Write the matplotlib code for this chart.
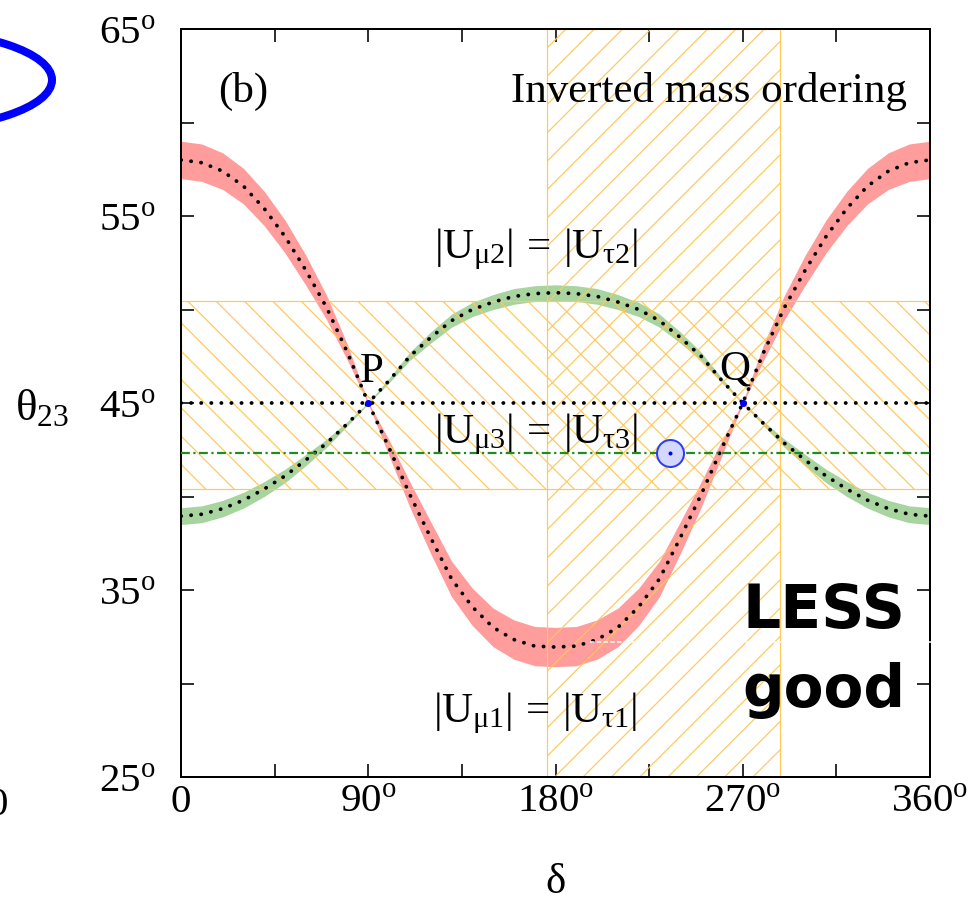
import matplotlib
matplotlib.use("Agg")
import matplotlib.pyplot as plt
from matplotlib.patches import Ellipse

DPI = 85
W, H = 971, 909


def pt(px):
    """Convert a length in pixels to points at the output resolution."""
    return px * 72.0 / DPI


plt.rcParams["font.family"] = ["Liberation Serif", "DejaVu Serif"]
plt.rcParams["mathtext.fontset"] = "custom"
plt.rcParams["mathtext.rm"] = "Liberation Serif"
plt.rcParams["mathtext.it"] = "Liberation Serif"
plt.rcParams["mathtext.bf"] = "Liberation Serif:bold"
plt.rcParams["hatch.linewidth"] = pt(1.2)

# ---- data -------------------------------------------------------------
delta = [0, 10, 20, 30, 40, 50, 60, 70, 80, 90, 100, 110, 120, 130, 140, 150,
         160, 170, 180, 190, 200, 210, 220, 230, 240, 250, 260, 270, 280, 290,
         300, 310, 320, 330, 340, 350, 360]

# |U_mu1| = |U_tau1|  (centre line and half width of the band)
theta_u1 = [58.0, 57.85, 57.4, 56.6, 55.4, 53.9, 52.1, 50.1, 47.7, 45.0,
            42.6, 40.1, 37.8, 35.6, 34.1, 33.0, 32.35, 32.0, 31.95,
            32.0, 32.35, 33.0, 34.1, 35.6, 37.8, 40.1, 42.6, 45.0,
            47.7, 50.1, 52.1, 53.9, 55.4, 56.6, 57.4, 57.85, 58.0]
width_u1 = [1.0, 1.0, 0.98, 0.95, 0.92, 0.88, 0.8, 0.65, 0.42, 0.05,
            0.42, 0.68, 0.85, 0.95, 1.0, 1.03, 1.05, 1.05, 1.05,
            1.05, 1.05, 1.03, 1.0, 0.95, 0.85, 0.68, 0.42, 0.05,
            0.42, 0.65, 0.8, 0.88, 0.92, 0.95, 0.98, 1.0, 1.0]

# |U_mu2| = |U_tau2|
theta_u2 = [38.95, 39.05, 39.35, 39.8, 40.4, 41.1, 41.95, 42.85, 43.9, 45.0,
            46.2, 47.5, 48.5, 49.4, 50.0, 50.4, 50.7, 50.85, 50.9,
            50.85, 50.7, 50.4, 50.0, 49.4, 48.5, 47.5, 46.2, 45.0,
            43.9, 42.85, 41.95, 41.1, 40.4, 39.8, 39.35, 39.05, 38.95]
width_u2 = [0.45, 0.45, 0.44, 0.42, 0.4, 0.36, 0.3, 0.22, 0.12, 0.03,
            0.12, 0.22, 0.3, 0.35, 0.38, 0.4, 0.42, 0.42, 0.42,
            0.42, 0.42, 0.4, 0.38, 0.35, 0.3, 0.22, 0.12, 0.03,
            0.12, 0.22, 0.3, 0.36, 0.4, 0.42, 0.44, 0.45, 0.45]

theta_u3 = 42.3            # |U_mu3| = |U_tau3|
theta_maximal = 45.0
crossing_delta = [90, 270]
crossing_theta = [45.0, 45.0]
crossing_names = ["P", "Q"]
best_delta = 235
best_theta = 42.3
delta_range = (176, 288)
theta_range = (40.4, 50.45)

x_ticks = [0, 90, 180, 270, 360]
x_tick_labels = ["0", r"$90^{\rm o}$", r"$180^{\rm o}$", r"$270^{\rm o}$", r"$360^{\rm o}$"]
y_ticks = [25, 35, 45, 55, 65]
y_tick_labels = [r"$25^{\rm o}$", r"$35^{\rm o}$", r"$45^{\rm o}$", r"$55^{\rm o}$", r"$65^{\rm o}$"]

# ---- colours -----------------------------------------------------------
RED_BAND = "#FF9C9C"
GREEN_BAND = "#A8D4A0"
HATCH = "#FFC85A"
DASHDOT_GREEN = "#1E8C1E"
BLUE = "#0000FF"

TICK_FS = pt(41)
TEXT_FS = pt(43)

fig = plt.figure(figsize=(W / DPI, H / DPI), dpi=DPI)
fig.patch.set_facecolor("white")
ax = fig.add_axes([181 / W, 1 - 778 / H, 749 / W, 748 / H])

# bands of the two mixing-matrix equalities
lo1 = [t - w for t, w in zip(theta_u1, width_u1)]
hi1 = [t + w for t, w in zip(theta_u1, width_u1)]
lo2 = [t - w for t, w in zip(theta_u2, width_u2)]
hi2 = [t + w for t, w in zip(theta_u2, width_u2)]
ax.fill_between(delta, lo1, hi1, color=RED_BAND, lw=0, zorder=1)
ax.fill_between(delta, lo2, hi2, color=GREEN_BAND, lw=0, zorder=1)

# allowed ranges (hatched)
ax.axvspan(*delta_range, facecolor="none", edgecolor=HATCH, hatch="/",
           lw=pt(1.2), zorder=2)
ax.axhspan(*theta_range, facecolor="none", edgecolor=HATCH, hatch="\\",
           lw=pt(1.2), zorder=2)

dot_style = dict(color="black", lw=pt(3.8), linestyle=(0, (0.05, 2.6)),
                 dash_capstyle="round", zorder=3)
ax.plot(delta, theta_u1, **dot_style)
ax.plot(delta, theta_u2, **dot_style)
ax.axhline(theta_maximal, **dot_style)
ax.axhline(theta_u3, color=DASHDOT_GREEN, lw=pt(2.2),
           linestyle=(0, (4, 1.6, 1, 1.6)), zorder=3)

ax.plot(crossing_delta, crossing_theta, "o", color=BLUE, ms=pt(7), mew=0, zorder=5)
ax.plot(best_delta, best_theta, "o", ms=pt(27), mfc="#D4D8FF", mec="#2A3CFF",
        mew=pt(2), zorder=5)
ax.plot(best_delta, best_theta, "o", ms=pt(4), color=BLUE, mew=0, zorder=6)

# annotations
for name, d, th in zip(crossing_names, [91.8, 266.3], [46.2, 46.3]):
    ax.text(d, th, name, fontsize=TEXT_FS, ha="center", va="baseline", zorder=6)
ax.text(17.8, 61.15, "(b)", fontsize=TEXT_FS, ha="left", va="baseline")
ax.text(349, 61.15, "Inverted mass ordering", fontsize=TEXT_FS,
        ha="right", va="baseline")
ax.text(170.6, 52.8, r"$|U_{\mu 2}|\,=\,|U_{\tau 2}|$", fontsize=TEXT_FS,
        ha="center", va="baseline", zorder=6)
ax.text(170.8, 42.9, r"$|U_{\mu 3}|\,=\,|U_{\tau 3}|$", fontsize=TEXT_FS,
        ha="center", va="baseline", zorder=6)
ax.text(170.0, 28.0, r"$|U_{\mu 1}|\,=\,|U_{\tau 1}|$", fontsize=TEXT_FS,
        ha="center", va="baseline", zorder=6)

# axes
ax.set_xlim(0, 360)
ax.set_ylim(25, 65)
ax.set_xticks(x_ticks)
ax.set_xticklabels(x_tick_labels)
ax.set_xticks([45, 135, 225, 315], minor=True)
ax.set_yticks(y_ticks)
ax.set_yticklabels(y_tick_labels)
ax.set_yticks([30, 40, 50, 60], minor=True)
ax.tick_params(which="both", direction="in", top=True, right=True,
               length=pt(13), width=pt(1.6), labelsize=TICK_FS)
ax.tick_params(axis="x", pad=pt(6))
ax.tick_params(axis="y", pad=pt(25))
for s in ax.spines.values():
    s.set_linewidth(pt(2))

fig.text(15 / W, 1 - 420 / H, r"$\theta_{23}$", fontsize=pt(45),
         ha="left", va="baseline")
fig.text(555 / W, 1 - 893 / H, r"$\delta$", fontsize=TEXT_FS,
         ha="center", va="baseline")

# overlay in pixel units for the pieces outside the frame
ov = fig.add_axes([0, 0, 1, 1], zorder=10)
ov.set_xlim(0, W)
ov.set_ylim(H, 0)
ov.axis("off")
ov.patch.set_alpha(0)
ov.add_patch(Ellipse((-100, 81), 304, 100, fill=False, edgecolor=BLUE, lw=pt(8)))
ov.text(8, 815, "0", fontsize=TICK_FS, ha="right", va="baseline")
ov.plot([590, 935], [643, 643], color="white", lw=pt(1.5), linestyle=(0, (3, 1.5)))
ov.text(905, 628, "LESS", fontsize=pt(60), fontweight="bold",
        family="DejaVu Sans", ha="right", va="baseline")
ov.text(905, 707, "good", fontsize=pt(58), fontweight="bold",
        family="DejaVu Sans", ha="right", va="baseline")

fig.savefig("out.png", dpi=DPI, facecolor="white")
